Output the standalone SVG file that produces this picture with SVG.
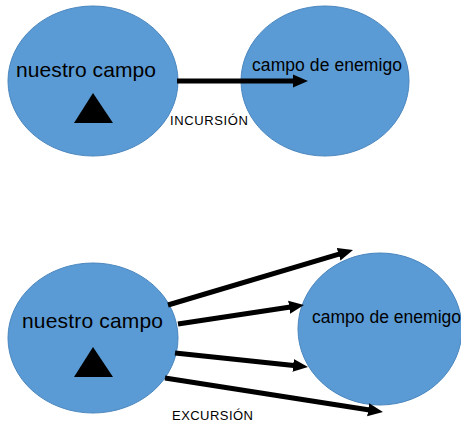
<svg xmlns="http://www.w3.org/2000/svg" width="461" height="423" viewBox="0 0 461 423">
  <style>
    .field { fill: #5B9BD5; stroke: #4A86BE; stroke-width: 1; }
    .lbl { font-family: "Liberation Sans", Arial, sans-serif; fill: #000; }
    .big { font-size: 21px; }
    .mid { font-size: 17.5px; }
    .cap { font-size: 13px; }
    .arrow { stroke: #000; stroke-width: 5; fill: none; marker-end: url(#head); }
    .tri { fill: #000; }
  </style>
  <defs>
    <marker id="head" markerUnits="userSpaceOnUse" markerWidth="15" markerHeight="14" refX="3" refY="7" orient="auto" viewBox="0 0 15 14">
      <path d="M0,0.5 L15,7 L0,13.5 z" fill="#000"/>
    </marker>
  </defs>
  <rect width="461" height="423" fill="#fff"/>

  <g id="top-ours">
    <ellipse class="field" cx="93" cy="81" rx="85" ry="75"/>
    <text class="lbl big" x="16" y="77" textLength="140">nuestro campo</text>
    <polygon class="tri" points="93,93 113,123 74,123"/>
  </g>
  <g id="top-enemy">
    <ellipse class="field" cx="325" cy="81" rx="84" ry="75"/>
    <text class="lbl mid" x="252" y="71" textLength="150">campo de enemigo</text>
  </g>
  <g id="bottom-ours">
    <ellipse class="field" cx="93" cy="338" rx="85" ry="75"/>
    <text class="lbl big" x="22" y="328" textLength="141">nuestro campo</text>
    <polygon class="tri" points="93,347 113,377 74,377"/>
  </g>
  <g id="bottom-enemy">
    <ellipse class="field" cx="380" cy="329" rx="82" ry="76"/>
    <text class="lbl mid" x="312" y="323" textLength="149">campo de enemigo</text>
  </g>

  <g id="connectors">
    <line class="arrow" x1="177" y1="81" x2="296" y2="81"/>
    <line class="arrow" x1="168" y1="305" x2="341.5" y2="253.4"/>
    <line class="arrow" x1="178" y1="324" x2="292.1" y2="306.8"/>
    <line class="arrow" x1="175" y1="353" x2="296.1" y2="365.7"/>
    <line class="arrow" x1="165" y1="378" x2="371.1" y2="410.2"/>
  </g>

  <g id="labels">
    <text class="lbl cap" x="170" y="125" textLength="78">INCURSIÓN</text>
    <text class="lbl cap" x="172" y="420" textLength="81">EXCURSIÓN</text>
  </g>
</svg>
